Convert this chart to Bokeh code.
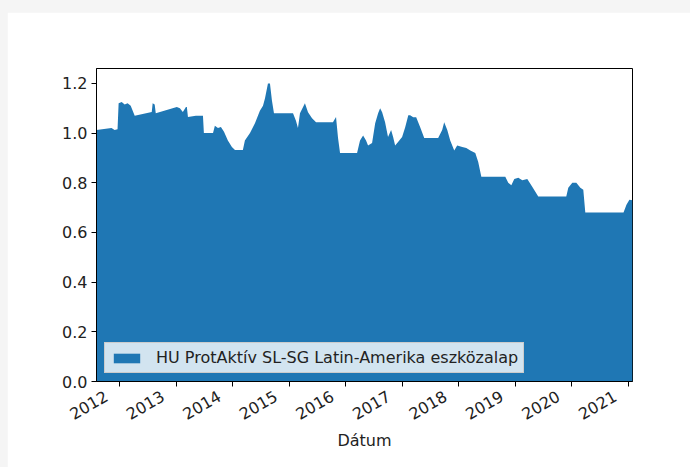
import pandas as pd
from bokeh.plotting import figure
from bokeh.models import (Range1d, FixedTicker, Legend, LegendItem, GlobalInlineStyleSheet,
                          ColumnDataSource)
from bokeh.embed import file_html
from bokeh.resources import INLINE

# ---- data ----
dates = [
    "2011-08-04", "2011-11-09", "2011-11-29", "2011-12-18", "2011-12-25", "2012-01-14",
    "2012-02-02", "2012-02-21", "2012-03-12", "2012-04-07", "2012-07-26", "2012-08-01",
    "2012-08-14", "2012-08-21", "2013-01-04", "2013-01-24", "2013-02-12", "2013-03-04",
    "2013-03-10", "2013-03-17", "2013-05-07", "2013-06-22", "2013-06-28", "2013-08-26",
    "2013-09-07", "2013-09-27", "2013-10-16", "2013-11-05", "2013-11-30", "2013-12-26",
    "2014-01-15", "2014-03-07", "2014-03-20", "2014-04-22", "2014-05-24", "2014-06-25",
    "2014-07-15", "2014-07-28", "2014-08-16", "2014-08-29", "2014-09-11", "2014-09-24",
    "2015-01-25", "2015-02-13", "2015-02-26", "2015-03-11", "2015-04-12", "2015-05-02",
    "2015-05-28", "2015-06-23", "2015-10-10", "2015-10-30", "2015-11-12", "2015-11-25",
    "2016-03-14", "2016-04-02", "2016-04-22", "2016-05-11", "2016-05-24", "2016-06-19",
    "2016-07-09", "2016-07-28", "2016-08-10", "2016-08-23", "2016-09-11", "2016-09-30",
    "2016-10-20", "2016-11-02", "2016-11-15", "2016-12-04", "2016-12-30", "2017-01-19",
    "2017-02-08", "2017-02-20", "2017-03-12", "2017-03-31", "2017-04-26", "2017-05-22",
    "2017-08-20", "2017-09-15", "2017-09-28", "2017-10-18", "2017-11-06", "2017-12-02",
    "2017-12-21", "2018-01-23", "2018-02-18", "2018-03-16", "2018-04-17", "2018-05-06",
    "2018-05-26", "2018-10-28", "2018-11-16", "2018-12-06", "2018-12-25", "2019-01-20",
    "2019-02-15", "2019-03-19", "2019-04-20", "2019-05-29", "2019-11-26", "2019-12-09",
    "2020-01-04", "2020-01-30", "2020-02-25", "2020-03-15", "2020-03-28", "2020-11-30",
    "2020-12-19", "2021-01-07", "2021-01-27",
]
values = [
    1.012, 1.020, 1.012, 1.015, 1.120, 1.125,
    1.115, 1.120, 1.110, 1.070, 1.085, 1.120,
    1.115, 1.080, 1.105, 1.100, 1.085, 1.105,
    1.105, 1.065, 1.070, 1.070, 1.000, 1.000,
    1.030, 1.020, 1.025, 1.005, 0.970, 0.944,
    0.932, 0.932, 0.970, 1.000, 1.040, 1.090,
    1.110, 1.140, 1.200, 1.200, 1.130, 1.080,
    1.080, 1.050, 1.020, 1.080, 1.120, 1.084,
    1.060, 1.044, 1.044, 1.065, 0.980, 0.920,
    0.920, 0.970, 0.990, 0.970, 0.950, 0.960,
    1.040, 1.080, 1.100, 1.084, 1.044, 0.984,
    1.012, 0.984, 0.950, 0.964, 0.984, 1.024,
    1.072, 1.072, 1.064, 1.064, 1.024, 0.980,
    0.980, 1.012, 1.044, 1.012, 0.970, 0.930,
    0.950, 0.944, 0.940, 0.930, 0.920, 0.884,
    0.824, 0.824, 0.800, 0.790, 0.815, 0.820,
    0.810, 0.815, 0.784, 0.745, 0.745, 0.780,
    0.800, 0.800, 0.780, 0.772, 0.680, 0.680,
    0.712, 0.732, 0.730,
]
series_name = "HU ProtAktív SL-SG Latin-Amerika eszközalap"
x_label = "Dátum"
year_ticks = ["2012", "2013", "2014", "2015", "2016", "2017", "2018", "2019", "2020", "2021"]
y_ticks = [0.0, 0.2, 0.4, 0.6, 0.8, 1.0, 1.2]

x = pd.to_datetime(dates)
src = ColumnDataSource(dict(x=x, y=values, y0=[0.0] * len(values)))

FONT = "DejaVu Sans"
FS = "16px"
TXT = "#222222"
NBSP = "\u00a0"

p = figure(width=683, height=455, output_backend="svg", toolbar_location=None,
           x_axis_type="datetime",
           x_range=Range1d(x[0], x[-1]), y_range=Range1d(0, 1.26),
           min_border_left=89, min_border_right=58, min_border_top=56, min_border_bottom=86)
p.margin = (12, 0, 0, 7)
p.stylesheets = [GlobalInlineStyleSheet(
    css="html,body{margin:0;padding:0;background:#f5f5f5;overflow:hidden;}")]
p.background_fill_color = "white"
p.border_fill_color = "white"
p.outline_line_color = "black"
p.outline_line_width = 1
p.xgrid.visible = False
p.ygrid.visible = False

area = p.varea(x="x", y1="y0", y2="y", source=src, fill_color="#1f77b4")

tick_ms = [pd.Timestamp(f"{t}-01-01").value // 10**6 for t in year_ticks]
p.xaxis.ticker = FixedTicker(ticks=tick_ms)
# trailing no-break spaces shift the right-aligned rotated labels like matplotlib's
p.xaxis.major_label_overrides = {ms: t + NBSP * 3 for ms, t in zip(tick_ms, year_ticks)}
p.xaxis.major_label_orientation = 0.5236
p.xaxis.axis_label = x_label

p.yaxis.ticker = FixedTicker(ticks=y_ticks)
p.yaxis.major_label_overrides = {v: f"{v:.1f}" for v in y_ticks}

for ax in (p.xaxis[0], p.yaxis[0]):
    ax.major_tick_in = 0
    ax.major_tick_out = 5
    ax.minor_tick_line_color = None
    ax.axis_line_color = "black"
    ax.major_tick_line_color = "black"
    ax.major_label_text_font = FONT
    ax.major_label_text_font_size = FS
    ax.major_label_text_color = TXT
    ax.axis_label_text_font = FONT
    ax.axis_label_text_font_size = FS
    ax.axis_label_text_font_style = "normal"
    ax.axis_label_text_color = TXT
    ax.major_label_standoff = 4
p.xaxis.major_label_standoff = 1
p.xaxis.axis_label_standoff = -4

legend = Legend(items=[LegendItem(label=series_name, renderers=[area])],
                location="bottom_left")
legend.label_text_font = FONT
legend.label_text_font_size = FS
legend.label_text_color = TXT
legend.background_fill_color = "white"
legend.background_fill_alpha = 0.8
legend.border_line_color = "#cccccc"
legend.border_line_alpha = 1
legend.glyph_width = 33
legend.glyph_height = 12
legend.padding = 5
legend.margin = 8
legend.label_standoff = 13
legend.label_height = 16
p.add_layout(legend)

open("out.html", "w").write(file_html(p, INLINE))
